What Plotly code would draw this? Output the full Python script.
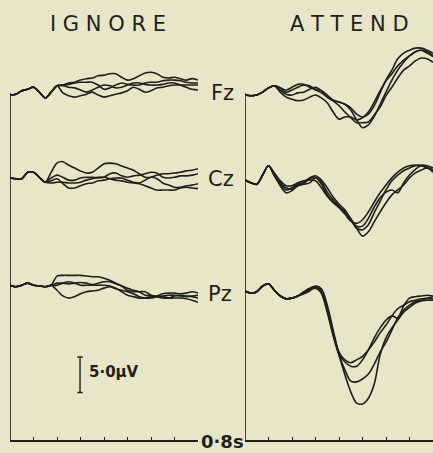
import plotly.graph_objects as go

# ---------------- data (µV, positive plotted downward) ----------------
TIME = [0.0, 0.025, 0.05, 0.075, 0.1, 0.125, 0.15, 0.175, 0.2, 0.225, 0.25,
        0.275, 0.3, 0.325, 0.35, 0.375, 0.4, 0.425, 0.45, 0.475, 0.5, 0.525,
        0.55, 0.575, 0.6, 0.625, 0.65, 0.675, 0.7, 0.725, 0.75, 0.775, 0.8]

CONDITIONS = ["IGNORE", "ATTEND"]
CHANNELS = ["Fz", "Cz", "Pz"]

# IGNORE condition
IGN_FZ_START = [0.0, -0.1, -0.6, -0.8, -1.1, -0.4, 0.4, -0.4, -1.3]
IGN_FZ_TAILS = [
    [-1.4, -1.7, -1.8, -2.1, -2.3, -2.4, -2.7, -2.8, -3.0, -3.0, -2.5, -2.1, -2.3, -2.7, -3.1, -3.2, -3.0, -2.5, -2.4, -2.5, -2.3, -2.1, -2.3, -2.1],
    [-1.4, -1.5, -1.7, -1.8, -1.8, -1.8, -1.4, -0.8, -1.0, -1.4, -1.7, -1.5, -1.4, -1.4, -1.7, -1.8, -1.8, -2.0, -2.1, -2.1, -2.0, -1.8, -1.7, -1.7],
    [-1.3, -1.1, -1.0, -0.7, -0.4, -0.7, -1.1, -1.4, -1.3, -1.0, -1.1, -1.4, -1.7, -1.7, -1.5, -1.4, -1.4, -1.5, -1.7, -1.7, -1.4, -1.1, -0.8, -0.7],
    [-0.3, 0.1, 0.3, 0.1, -0.1, -0.4, 0.0, 0.3, 0.1, -0.1, -0.3, -0.6, -1.1, -0.8, -0.4, -0.6, -1.0, -1.1, -1.3, -1.4, -1.4, -1.4, -1.4, -1.4],
]
IGN_CZ_START = [0.0, 0.1, 0.1, -0.8, -0.8, -0.1, 0.6]
IGN_CZ_TAILS = [
    [-0.8, -2.1, -2.3, -1.8, -1.4, -1.0, -0.7, -0.8, -1.4, -2.0, -2.1, -2.0, -1.7, -1.4, -1.1, -0.6, -0.1, -0.1, -0.4, -0.6, -0.6, -0.7, -0.8, -1.0, -1.1, -1.3],
    [0.0, -0.4, -0.1, 0.3, 0.3, 0.0, -0.1, -0.1, 0.0, -0.1, -0.6, -0.7, -0.3, -0.1, -0.3, -0.4, -0.6, -0.8, -0.7, -0.1, 0.0, -0.1, -0.3, -0.3, -0.4, -0.6],
    [0.4, 0.1, 0.8, 1.4, 1.4, 1.1, 0.8, 0.7, 0.4, 0.3, 0.1, 0.0, 0.0, 0.3, 0.6, 0.7, 0.3, -0.1, 0.1, 0.7, 1.0, 1.3, 1.3, 1.1, 1.0, 0.8],
    [0.7, 0.6, 0.6, 0.7, 0.7, 0.6, 0.3, 0.1, -0.1, -0.1, 0.1, 0.3, 0.4, 0.6, 0.7, 0.8, 1.1, 1.4, 1.7, 1.7, 1.7, 1.7, 1.4, 1.3, 1.4, 1.5],
]
IGN_PZ_START = [-0.1, 0.1, -0.1, -0.4, -0.1, 0.0, 0.1, -0.1]
IGN_PZ_TAILS = [
    [-1.4, -1.5, -1.5, -1.5, -1.5, -1.4, -1.3, -1.3, -1.1, -0.8, -0.4, 0.0, 0.3, 0.6, 0.8, 1.3, 1.4, 1.5, 1.4, 1.3, 1.3, 1.4, 1.5, 1.4, 1.3],
    [0.6, 1.4, 1.7, 1.5, 1.1, 0.8, 0.7, 0.6, 0.3, 0.1, 0.4, 0.6, 0.8, 1.1, 1.5, 1.7, 1.7, 1.5, 1.5, 1.7, 1.7, 1.7, 1.8, 2.0, 2.3],
    [-0.4, -0.4, -0.3, -0.4, -0.5, -0.4, -0.2, -0.4, -0.6, -0.6, -0.3, 0.0, 0.6, 0.8, 0.8, 0.8, 1.3, 1.4, 1.1, 1.0, 1.0, 1.1, 1.0, 0.8, 1.0],
    [-0.1, -0.4, -0.6, -0.4, -0.1, -0.1, -0.1, -0.1, -0.1, 0.0, 0.3, 0.8, 1.3, 1.5, 1.7, 1.7, 1.5, 1.5, 1.7, 1.7, 1.4, 1.3, 1.4, 1.5, 1.7],
]

# ATTEND condition
ATT_FZ_START = [0.0, 0.1, 0.0, -0.4, -1.0, -1.3]
ATT_FZ_TAILS = [
    [-1.0, -0.7, -1.1, -1.5, -1.5, -1.1, -0.7, -0.3, 0.3, 0.8, 1.0, 1.3, 1.8, 2.7, 3.1, 2.7, 1.5, -0.3, -2.1, -3.5, -5.1, -5.9, -6.3, -6.6, -6.6, -6.3, -5.9],
    [-0.4, 0.3, 0.6, 0.8, 0.7, 0.3, 0.0, 0.4, 1.1, 2.4, 3.4, 3.1, 3.1, 3.5, 3.2, 2.4, 1.0, -0.6, -2.0, -3.0, -4.1, -4.9, -5.5, -6.1, -6.3, -6.1, -5.6],
    [-0.7, -0.1, 0.0, -0.3, -0.4, -0.8, -1.1, -0.6, 0.3, 0.7, 1.0, 1.3, 2.1, 3.5, 4.6, 4.2, 3.0, 1.3, -0.4, -2.1, -3.5, -4.6, -5.5, -6.1, -6.3, -5.9, -5.4],
    [-1.0, -0.4, -0.7, -1.1, -1.4, -1.3, -0.8, -0.6, 0.0, 0.8, 1.5, 2.4, 3.2, 3.9, 3.9, 3.8, 2.8, 1.7, 0.1, -1.1, -2.4, -3.5, -4.1, -4.8, -5.2, -5.1, -4.6],
]
ATT_CZ_START = [0.0, 0.4, 0.6, -0.7, -2.0]
ATT_CZ_TAILS = [
    [-0.6, 0.8, 1.8, 1.5, 0.8, 0.6, 0.4, -0.3, 0.3, 1.7, 2.8, 3.7, 4.4, 5.4, 6.8, 7.9, 7.3, 5.9, 4.5, 3.2, 2.1, 1.4, 0.7, -0.3, -1.0, -1.4, -1.7, -1.1],
    [-0.7, 0.6, 1.4, 1.1, 0.6, 0.3, -0.3, -0.6, 0.0, 1.1, 2.4, 3.4, 4.2, 5.6, 6.8, 7.0, 6.3, 4.6, 3.0, 1.4, 0.1, -0.7, -1.3, -1.7, -2.0, -2.1, -2.0, -1.7],
    [-1.0, 0.1, 0.8, 0.8, 0.4, 0.1, 0.0, 0.1, 1.1, 2.3, 3.2, 3.9, 4.8, 5.8, 6.1, 5.6, 4.5, 3.1, 1.8, 0.7, -0.3, -1.1, -1.7, -2.0, -2.1, -2.0, -1.7, -1.4],
    [-0.6, 0.4, 1.1, 1.3, 0.8, 0.4, -0.1, -0.4, 0.6, 2.1, 3.1, 3.8, 4.5, 5.6, 6.5, 6.5, 5.4, 3.8, 2.5, 1.7, 1.4, 1.8, 0.4, -0.7, -1.5, -2.0, -1.8, -1.4],
]
ATT_PZ_START = [0.0, 0.3, 0.1, -0.7, -1.0, -0.1, 0.7, 1.1, 1.0, 0.7]
ATT_PZ_TAILS = [
    [0.3, -0.3, -0.6, 0.0, 2.4, 5.8, 8.6, 9.7, 10.1, 9.7, 9.2, 8.3, 7.2, 5.9, 4.8, 3.5, 2.5, 2.0, 1.5, 1.3, 1.1, 1.0, 0.8],
    [0.3, -0.1, -0.4, 0.3, 2.7, 6.1, 9.0, 11.1, 12.7, 12.8, 12.4, 11.7, 10.3, 8.6, 7.2, 5.5, 3.8, 2.7, 2.0, 1.5, 1.3, 1.1, 1.1],
    [0.4, 0.0, -0.7, -0.3, 2.0, 5.5, 9.0, 11.8, 14.2, 15.8, 15.9, 15.1, 13.1, 9.0, 6.6, 5.2, 4.1, 3.0, 2.3, 1.7, 1.4, 1.3, 1.3],
    [0.1, -0.4, -0.6, 0.3, 3.0, 6.3, 8.9, 10.0, 10.6, 10.6, 9.7, 8.3, 6.6, 5.2, 4.1, 3.5, 3.8, 2.1, 1.0, 0.8, 0.7, 0.6, 0.7],
]

SCALE_UV = 5.0
SCALE_LABEL = "5·0µV"
TIME_LABEL = "0·8s"

# ---------------- layout constants (pixels of the 433x453 canvas) ----------------
W, H = 433, 453
PX_PER_UV = 7.1
PX_PER_S = 235.0
INK = "#1f1f1a"
BG = "#e8e5c9"

PANEL_X0 = {"IGNORE": 10, "ATTEND": 245}
BASE_PX = {
    ("IGNORE", "Fz"): 95, ("IGNORE", "Cz"): 178, ("IGNORE", "Pz"): 286,
    ("ATTEND", "Fz"): 95, ("ATTEND", "Cz"): 180, ("ATTEND", "Pz"): 291,
}
AXIS_BOTTOM_PX = 441

DATA = {
    ("IGNORE", "Fz"): (IGN_FZ_START, IGN_FZ_TAILS),
    ("IGNORE", "Cz"): (IGN_CZ_START, IGN_CZ_TAILS),
    ("IGNORE", "Pz"): (IGN_PZ_START, IGN_PZ_TAILS),
    ("ATTEND", "Fz"): (ATT_FZ_START, ATT_FZ_TAILS),
    ("ATTEND", "Cz"): (ATT_CZ_START, ATT_CZ_TAILS),
    ("ATTEND", "Pz"): (ATT_PZ_START, ATT_PZ_TAILS),
}

def y_of_px(py):
    return py / PX_PER_UV

fig = go.Figure()
xref = {"IGNORE": "x", "ATTEND": "x2"}

for cond in CONDITIONS:
    for ch in CHANNELS:
        start, tails = DATA[(cond, ch)]
        base = y_of_px(BASE_PX[(cond, ch)])
        for tail in tails:
            vals = start + tail
            fig.add_trace(go.Scatter(
                x=TIME, y=[base + v for v in vals], mode="lines",
                xaxis=xref[cond], yaxis="y",
                line=dict(color=INK, width=1.6, shape="spline", smoothing=0.9),
                hoverinfo="skip", showlegend=False))

# vertical axis lines for each panel
shapes = []
for cond in CONDITIONS:
    shapes.append(dict(type="line", xref=xref[cond], yref="y",
                       x0=0, x1=0, y0=y_of_px(BASE_PX[(cond, "Fz")] - 2),
                       y1=y_of_px(AXIS_BOTTOM_PX),
                       line=dict(color=INK, width=1.6)))

# calibration bar (5 µV) in the IGNORE panel
bar_top = y_of_px(357)
fig.add_trace(go.Scatter(
    x=[0.298, 0.298], y=[bar_top, bar_top + SCALE_UV], mode="lines+markers",
    xaxis="x", yaxis="y",
    line=dict(color=INK, width=1.4),
    marker=dict(symbol="line-ew", size=4, line=dict(color=INK, width=1.4)),
    hoverinfo="skip", showlegend=False))

ann = []
def add_text(text, px, py, size, xanchor="center", family="DejaVu Sans", weight="normal"):
    ann.append(dict(text=text, x=px / W, y=1 - py / H, xref="paper", yref="paper",
                    showarrow=False, xanchor=xanchor, yanchor="middle",
                    font=dict(family=family, size=size, color=INK, weight=weight)))

add_text("I G N O R E", 108, 24, 21)
add_text("A T T E N D", 349, 24, 21)
add_text("Fz", 209, 93, 21, xanchor="left")
add_text("Cz", 206, 179, 21, xanchor="left")
add_text("Pz", 206, 294, 21, xanchor="left")
add_text(SCALE_LABEL, 87, 372, 15, xanchor="left", weight="bold")
add_text(TIME_LABEL, 199, 441, 18, xanchor="left", weight="bold")

axis_common = dict(range=[0, 0.8], showgrid=False, zeroline=False,
                   showline=True, linecolor=INK, linewidth=1.6,
                   ticks="inside", ticklen=3, tickwidth=1.2, tickcolor=INK,
                   tickvals=[0.1, 0.2, 0.3, 0.4, 0.5, 0.6, 0.7],
                   showticklabels=False, anchor="free",
                   position=1 - AXIS_BOTTOM_PX / H)

fig.update_layout(
    width=W, height=H, margin=dict(l=0, r=0, t=0, b=0, pad=0),
    paper_bgcolor=BG, plot_bgcolor=BG,
    xaxis=dict(domain=[PANEL_X0["IGNORE"] / W, (PANEL_X0["IGNORE"] + 0.8 * PX_PER_S) / W], **axis_common),
    xaxis2=dict(domain=[PANEL_X0["ATTEND"] / W, min(1.0, (PANEL_X0["ATTEND"] + 0.8 * PX_PER_S) / W)], **axis_common),
    yaxis=dict(range=[H / PX_PER_UV, 0], domain=[0, 1], visible=False),
    shapes=shapes, annotations=ann, showlegend=False,
)

fig.write_html(
    "out.html",
    config={"displayModeBar": False},
    post_script="document.body.style.margin='0';document.body.style.background='" + BG + "';",
)
